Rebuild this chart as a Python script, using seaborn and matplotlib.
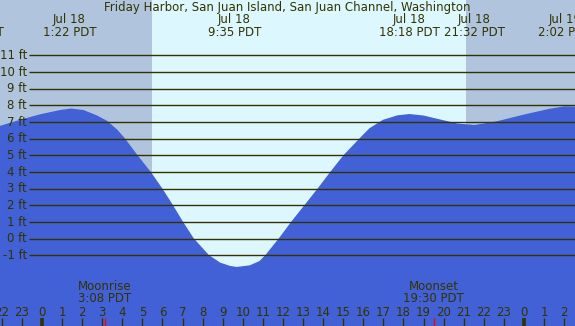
import matplotlib
matplotlib.use("Agg")
import matplotlib.pyplot as plt
import matplotlib.transforms as mtransforms
import seaborn as sns

# ---- data ----
title = "Friday Harbor, San Juan Island, San Juan Channel, Washington"
tide_hours = [-2.09, -1.1, -0.1, 0.9, 1.45, 2.06, 2.72, 3.22, 3.72, 4.1, 4.72,
              5.38, 5.96, 6.49, 6.99, 7.53, 8.28, 8.86, 9.36, 9.7, 10.36, 10.85,
              11.15, 11.82, 12.44, 13.10, 13.76, 14.39, 15.05, 15.84, 16.33, 17.0,
              17.7, 18.3, 19.0, 19.66, 20.65, 21.53, 22.64, 23.97, 25.3, 26.03, 26.6]
tide_feet = [6.73, 7.09, 7.42, 7.68, 7.77, 7.68, 7.36, 7.04, 6.52, 6.0, 5.0,
             4.0, 3.0, 2.0, 1.0, 0.0, -1.0, -1.47, -1.67, -1.73, -1.63, -1.37,
             -1.0, 0.0, 1.0, 2.0, 3.0, 4.0, 5.0, 6.0, 6.6, 7.1,
             7.36, 7.44, 7.35, 7.16, 6.88, 6.78, 7.0, 7.4, 7.76, 7.9, 7.88]
extreme_hours = [-3.41, 1.367, 9.583, 18.3, 21.533, 26.033]
extreme_dates = ["Jul 17", "Jul 18", "Jul 18", "Jul 18", "Jul 18", "Jul 19"]
extreme_labels = ["20:37 PDT", "1:22 PDT", "9:35 PDT", "18:18 PDT", "21:32 PDT", "2:02 PDT"]
sunrise_hour = 5.477
sunset_hour = 21.11
moon_hours = [3.133, 19.5]
moon_names = ["Moonrise", "Moonset"]
moon_labels = ["3:08 PDT", "19:30 PDT"]
grid_feet = list(range(-1, 12))
hour_ticks = list(range(-2, 27))

# ---- styling ----
W, H = 575, 326
NIGHT = "#B0C4DE"
DAY = "#DDF7FF"
WATER = "#4261D6"
INK = "#333300"
FS = 8.5

fig = plt.figure(figsize=(W / 100, H / 100), dpi=100)
ax = fig.add_axes([0, 0, 1, 1])
ax.set_xlim(-2.091, 26.54)
ax.set_ylim(-5.23, 14.32)
ax.set_facecolor(DAY)
ax.axis("off")
fig.patch.set_facecolor(DAY)

x0, x1 = ax.get_xlim()
y0, y1 = ax.get_ylim()
ax.axvspan(x0, sunrise_hour, color=NIGHT, zorder=0, lw=0)
ax.axvspan(sunset_hour, x1, color=NIGHT, zorder=0, lw=0)

ax.fill_between(tide_hours, tide_feet, y0, color=WATER, lw=0, zorder=1)
sns.lineplot(x=tide_hours, y=tide_feet, ax=ax, color=WATER, lw=1, zorder=1)

grid_start = (29 - 42) / 20.083
ax.hlines(grid_feet, grid_start, x1, colors=INK, lw=1.0, zorder=2)
for f in grid_feet:
    ax.text((27 - 42) / 20.083, f, f"{f} ft", ha="right", va="center",
            fontsize=FS, color=INK, zorder=3)

blend = mtransforms.blended_transform_factory(ax.transData, ax.transAxes)

def py(p):
    return 1 - p / H

fig.text(0.5, py(7), title, ha="center", va="center", fontsize=FS, color=INK)

for h, d, lab in zip(extreme_hours, extreme_dates, extreme_labels):
    ax.text(h, py(19), d, transform=blend, ha="center", va="center",
            fontsize=FS, color=INK, clip_on=False)
    ax.text(h, py(32), lab, transform=blend, ha="center", va="center",
            fontsize=FS, color=INK, clip_on=False)

for h, n, lab in zip(moon_hours, moon_names, moon_labels):
    ax.text(h, py(287), n, transform=blend, ha="center", va="center",
            fontsize=FS, color=INK)
    ax.text(h, py(299), lab, transform=blend, ha="center", va="center",
            fontsize=FS, color=INK)

for h in hour_ticks:
    ax.text(h, py(312), str(h % 24), transform=blend, ha="center", va="center",
            fontsize=FS, color=INK, clip_on=False)
    thick = (h % 24 == 0)
    ax.vlines(h, py(326), py(318), transform=blend, colors=INK,
              lw=2.6 if thick else 1.0, zorder=3)

ax.vlines(moon_hours, py(326), py(318), transform=blend, colors="red",
          lw=1.0, zorder=4)

fig.savefig("out.png", dpi=100, facecolor=DAY)
